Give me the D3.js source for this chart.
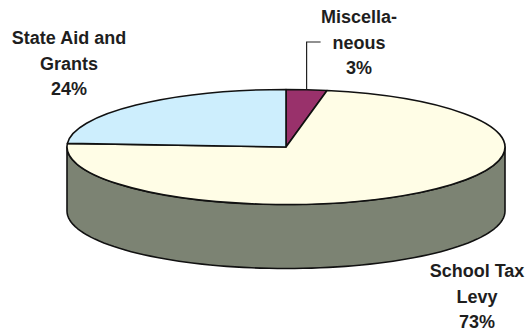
<!DOCTYPE html>
<html>
<head>
<meta charset="utf-8">
<script src="https://cdn.jsdelivr.net/npm/d3@7"></script>
<style>
  html, body { margin: 0; padding: 0; background: #fff; }
  svg { display: block; }
  .lbl { font-family: Arial, "Liberation Sans", sans-serif; font-weight: bold; font-size: 18px; fill: #1e1e1e; }
</style>
</head>
<body>
<svg id="chart" width="528" height="331"></svg>
<script>
// data, clockwise from 12 o'clock
const categories = ['Miscellaneous', 'School Tax Levy', 'State Aid and Grants'];
const values = [3, 73, 24];
const labelLines = [['Miscella-', 'neous', '3%'], ['School Tax', 'Levy', '73%'], ['State Aid and', 'Grants', '24%']];

const cs = {
    cx: 286, cy: 147, rx: 219, ry: 57.5, depth: 64,
    top: { 'Miscellaneous': '#99316b', 'School Tax Levy': '#fffde6', 'State Aid and Grants': '#cdeefd' },
    side: { 'Miscellaneous': '#5e1f42', 'School Tax Levy': '#7c8373', 'State Aid and Grants': '#7d9099' },
    labels: [
        { x: 359, y: 23 },
        { x: 477, y: 277 },
        { x: 69, y: 44 }
    ],
    lineH: 25.5
};

const svg = d3.select('#chart');
const ds = categories.map((c, i) => ({ name: c, value: values[i], lines: labelLines[i] }));
const arcs = d3.pie().sort(null).value(d => d.value)(ds);

// point on the top ellipse for a pie angle (clockwise from top)
const px = a => cs.cx + cs.rx * Math.sin(a);
const py = a => cs.cy - cs.ry * Math.cos(a);

// side walls (only the front half, pi/2 .. 3pi/2, is visible)
const line = d3.line();
arcs.forEach(a => {
    const a0 = Math.max(a.startAngle, Math.PI / 2),
        a1 = Math.min(a.endAngle, 3 * Math.PI / 2);
    if (a1 <= a0) return;
    const steps = d3.range(0, 81).map(i => a0 + (a1 - a0) * i / 80);
    const pts = steps.map(t => [px(t), py(t)])
        .concat(steps.slice().reverse().map(t => [px(t), py(t) + cs.depth]));
    svg.append('path')
        .attr('d', line(pts) + 'Z')
        .attr('fill', cs.side[a.data.name])
        .attr('stroke', '#111')
        .attr('stroke-width', 1.6)
        .attr('stroke-linejoin', 'round');
});

// top face: circular arcs squashed into an ellipse
const arcGen = d3.arc().innerRadius(0).outerRadius(cs.rx);
svg.append('g')
    .attr('transform', 'translate(' + cs.cx + ',' + cs.cy + ') scale(1,' + (cs.ry / cs.rx) + ')')
    .selectAll('path')
    .data(arcs)
    .enter()
    .append('path')
    .attr('d', arcGen)
    .attr('fill', d => cs.top[d.data.name])
    .attr('stroke', '#111')
    .attr('stroke-width', 1.6)
    .attr('stroke-linejoin', 'round')
    .attr('vector-effect', 'non-scaling-stroke');

// leader line for the small slice
const misc = arcs[0];
const mid = (misc.startAngle + misc.endAngle) / 2;
svg.append('path')
    .attr('d', line([[px(mid), py(mid)], [px(mid), 42], [px(mid) + 14, 42]]))
    .attr('fill', 'none')
    .attr('stroke', '#222')
    .attr('stroke-width', 1.2);

// labels
arcs.forEach((a, i) => {
    const t = svg.append('text')
        .attr('class', 'lbl')
        .attr('text-anchor', 'middle')
        .attr('x', cs.labels[i].x)
        .attr('y', cs.labels[i].y);
    a.data.lines.forEach((l, j) => {
        t.append('tspan')
            .attr('x', cs.labels[i].x)
            .attr('dy', j === 0 ? 0 : cs.lineH)
            .text(l);
    });
});
</script>
</body>
</html>
